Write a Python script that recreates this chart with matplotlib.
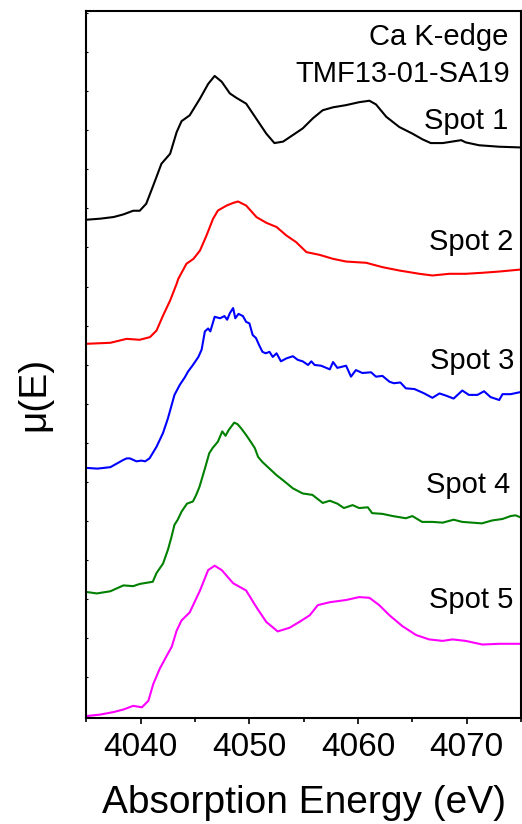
import matplotlib
matplotlib.use("Agg")
import matplotlib.pyplot as plt
from matplotlib.ticker import MultipleLocator

plt.rcParams['font.family'] = ['Liberation Sans', 'DejaVu Sans']

# normalised mu(E) traces, one per spot
e1 = [4035.0, 4036.25, 4037.5, 4038.4, 4039.3, 4039.9, 4040.5, 4041.15, 4041.9, 4042.7,
      4043.3, 4043.75, 4044.5, 4045.45, 4046.2, 4046.8, 4047.45, 4048.2, 4048.8, 4049.7,
      4050.65, 4051.55, 4052.3, 4053.1, 4054.0, 4054.9, 4055.85, 4056.75, 4057.7, 4058.9,
      4060.1, 4061.05, 4061.65, 4062.6, 4063.8, 4065.0, 4065.95, 4066.7, 4067.8, 4069.5,
      4069.9, 4071.15, 4073.0, 4075.0]
mu1 = [0.0, 0.014, 0.037, 0.073, 0.123, 0.123, 0.219, 0.47, 0.767, 0.904,
       1.20, 1.35, 1.43, 1.66, 1.86, 1.97, 1.89, 1.73, 1.67, 1.59,
       1.38, 1.18, 1.05, 1.07, 1.16, 1.25, 1.39, 1.50, 1.54, 1.57,
       1.61, 1.63, 1.58, 1.41, 1.27, 1.18, 1.10, 1.05, 1.05, 1.09,
       1.06, 1.02, 1.00, 0.99]

e2 = [4035.0, 4037.2, 4038.7, 4039.9, 4040.85, 4041.45, 4042.05, 4042.7, 4043.3, 4043.45,
      4044.2, 4044.85, 4045.45, 4046.05, 4046.65, 4047.1, 4047.9, 4048.5, 4048.95, 4049.7,
      4050.65, 4051.55, 4052.5, 4053.4, 4054.3, 4055.25, 4056.45, 4057.7, 4058.9, 4060.75,
      4062.25, 4063.8, 4065.65, 4066.85, 4068.4, 4069.9, 4071.45, 4073.0, 4075.0]
mu2 = [0.0, 0.014, 0.068, 0.055, 0.092, 0.182, 0.388, 0.593, 0.822, 0.89,
       1.096, 1.164, 1.278, 1.484, 1.712, 1.826, 1.894, 1.93, 1.95, 1.894,
       1.736, 1.658, 1.60, 1.484, 1.393, 1.256, 1.219, 1.164, 1.127, 1.11,
       1.05, 1.004, 0.959, 0.936, 0.959, 0.959, 0.973, 0.99, 1.018]

e3 = [4035.0, 4036.0, 4037.2, 4038.4, 4038.7, 4039.0, 4039.6, 4040.05, 4040.4, 4040.8,
      4041.45, 4042.05, 4042.5, 4042.8, 4043.1, 4043.6, 4044.05, 4044.35, 4044.8, 4045.3,
      4045.6, 4045.9, 4046.2, 4046.4, 4046.8, 4047.3, 4047.7, 4047.95, 4048.2, 4048.5,
      4048.7, 4049.0, 4049.4, 4049.7, 4050.0, 4050.3, 4050.6, 4050.9, 4051.2, 4051.5,
      4051.85, 4052.15, 4052.5, 4052.9, 4053.4, 4054.0, 4054.45, 4054.9, 4055.4, 4055.7,
      4056.0, 4056.6, 4057.4, 4057.7, 4058.1, 4058.9, 4059.35, 4059.8, 4060.4, 4061.2,
      4061.65, 4062.25, 4062.9, 4063.3, 4063.9, 4064.4, 4065.2, 4066.1, 4066.85, 4067.5,
      4068.1, 4068.8, 4069.6, 4070.2, 4071.0, 4071.6, 4072.2, 4073.0, 4073.3, 4074.05,
      4075.0]
mu3 = [0.0, -0.01, 0.01, 0.11, 0.13, 0.13, 0.09, 0.10, 0.09, 0.13,
       0.29, 0.48, 0.68, 0.84, 1.00, 1.14, 1.24, 1.32, 1.41, 1.52,
       1.62, 1.87, 1.91, 1.87, 2.07, 2.05, 2.08, 2.03, 2.12, 2.19,
       2.05, 2.11, 2.08, 2.00, 1.98, 1.82, 1.78, 1.68, 1.59, 1.57,
       1.59, 1.52, 1.57, 1.46, 1.50, 1.53, 1.48, 1.46, 1.41, 1.46,
       1.41, 1.40, 1.35, 1.45, 1.37, 1.40, 1.25, 1.34, 1.30, 1.31,
       1.25, 1.26, 1.18, 1.16, 1.17, 1.09, 1.08, 1.02, 0.96, 1.02,
       0.99, 0.95, 1.06, 1.00, 1.00, 1.05, 0.97, 0.93, 1.01, 1.01,
       1.04]

e4 = [4035.0, 4035.95, 4037.2, 4038.4, 4039.3, 4039.9, 4040.7, 4041.1, 4041.45, 4042.05,
      4042.5, 4042.8, 4043.1, 4043.4, 4043.75, 4044.25, 4044.8, 4045.1, 4045.4, 4045.9,
      4046.3, 4046.6, 4047.1, 4047.5, 4047.8, 4048.1, 4048.6, 4048.9, 4049.25, 4049.7,
      4050.2, 4050.5, 4050.8, 4051.2, 4051.85, 4052.5, 4053.1, 4054.0, 4054.9, 4055.8,
      4056.75, 4057.4, 4058.1, 4058.7, 4059.5, 4060.1, 4060.9, 4061.3, 4062.25, 4063.2,
      4064.4, 4065.0, 4065.9, 4066.85, 4067.8, 4068.8, 4069.6, 4070.5, 4071.4, 4072.35,
      4073.3, 4074.05, 4074.5, 4075.0]
mu4 = [0.0, -0.02, 0.01, 0.09, 0.08, 0.11, 0.13, 0.14, 0.26, 0.39,
       0.58, 0.74, 0.92, 0.99, 1.10, 1.21, 1.24, 1.33, 1.44, 1.69,
       1.90, 1.97, 2.06, 2.20, 2.14, 2.22, 2.32, 2.30, 2.24, 2.15,
       2.04, 1.97, 1.85, 1.78, 1.69, 1.60, 1.53, 1.42, 1.35, 1.33,
       1.22, 1.25, 1.21, 1.15, 1.19, 1.15, 1.16, 1.08, 1.07, 1.04,
       1.01, 1.04, 0.96, 0.96, 0.95, 0.99, 0.96, 0.95, 0.94, 0.98,
       1.00, 1.04, 1.05, 1.02]

e5 = [4035.0, 4036.25, 4037.5, 4038.4, 4039.3, 4040.1, 4040.7, 4041.15, 4041.75, 4042.4,
      4042.85, 4043.3, 4043.75, 4044.5, 4045.45, 4046.2, 4046.8, 4047.45, 4048.5, 4049.7,
      4050.65, 4051.55, 4052.6, 4053.7, 4054.6, 4055.55, 4056.3, 4057.4, 4058.9, 4060.1,
      4061.05, 4061.95, 4062.9, 4064.1, 4065.35, 4066.55, 4067.8, 4068.7, 4069.9, 4071.45,
      4073.0, 4075.0]
mu5 = [0.0, 0.02, 0.055, 0.09, 0.14, 0.12, 0.21, 0.44, 0.65, 0.83,
       0.95, 1.17, 1.31, 1.42, 1.72, 2.00, 2.06, 2.00, 1.82, 1.72,
       1.49, 1.29, 1.16, 1.21, 1.29, 1.38, 1.52, 1.56, 1.59, 1.63,
       1.62, 1.52, 1.38, 1.23, 1.11, 1.05, 1.03, 1.05, 1.03, 0.98,
       0.99, 0.99]

energies = [e1, e2, e3, e4, e5]
spectra = [mu1, mu2, mu3, mu4, mu5]
labels = ["Spot 1", "Spot 2", "Spot 3", "Spot 4", "Spot 5"]
colors = ["black", "#ff0000", "#0000ff", "#008000", "#ff00ff"]
offsets = [6.8, 5.1, 3.4, 1.7, 0.0]
label_pos = [(0.970, 0.833), (0.982, 0.662), (0.986, 0.494), (0.975, 0.318), (0.982, 0.156)]

fig = plt.figure(figsize=(5.22, 8.24), dpi=100)
ax = fig.add_axes([0.1657, 0.1286, 0.8323, 0.8581])

for e, mu, off, c in zip(energies, spectra, offsets, colors):
    ax.plot(e, [m + off for m in mu], color=c, lw=1.5)

for lab, (x, y) in zip(labels, label_pos):
    ax.text(x, y, lab, transform=ax.transAxes, ha='right', va='baseline', fontsize=21)

ax.text(0.970, 0.952, "Ca K-edge", transform=ax.transAxes, ha='right', va='baseline', fontsize=21)
ax.text(0.975, 0.900, "TMF13-01-SA19", transform=ax.transAxes, ha='right', va='baseline', fontsize=21)

ax.set_xlim(4035, 4075)
ax.set_ylim(-0.027, 9.66)
ax.xaxis.set_major_locator(MultipleLocator(10))
ax.xaxis.set_minor_locator(MultipleLocator(5))
ax.yaxis.set_major_locator(MultipleLocator(0.535))
ax.tick_params(axis='x', which='major', direction='out', length=4, width=1.2, labelsize=24, pad=6)
ax.tick_params(axis='x', which='minor', direction='out', length=3, width=1.2)
ax.tick_params(axis='y', direction='in', length=1.2, width=0.8, labelleft=False)
for s in ax.spines.values():
    s.set_linewidth(1.5)

ax.set_xlabel("Absorption Energy (eV)", fontsize=28, labelpad=16)
ax.set_ylabel("\u03bc(E)", fontsize=28)
ax.yaxis.set_label_coords(-0.079, 0.458)

fig.savefig("out.png", dpi=100)
